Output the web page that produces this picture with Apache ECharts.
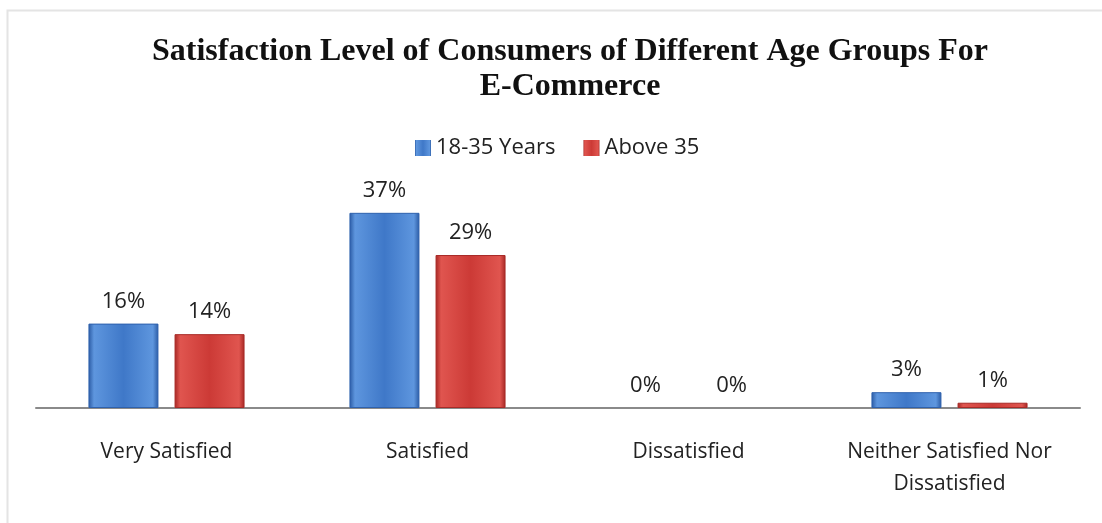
<!DOCTYPE html>
<html>
<head>
<meta charset="utf-8">
<script src="https://cdn.jsdelivr.net/npm/echarts@6/dist/echarts.min.js"></script>
<style>
  html, body { margin: 0; padding: 0; background: #fff; }
  #chart { width: 1102px; height: 523px; }
</style>
</head>
<body>
<div id="chart"></div>
<script>
const categories = ['Very Satisfied', 'Satisfied', 'Dissatisfied', 'Neither Satisfied Nor\nDissatisfied'];
const young = [16, 37, 0, 3];
const older = [14, 29, 0, 1];
const seriesNames = ['18-35 Years', 'Above 35'];

const labelFont = '"Open Sans", Lato, sans-serif';

const barFill = (light, mid, dark) => ({
  type: 'linear', x: 0, y: 0, x2: 1, y2: 0,
  colorStops: [
    { offset: 0, color: dark },
    { offset: 0.08, color: light },
    { offset: 0.5, color: mid },
    { offset: 0.92, color: light },
    { offset: 1, color: dark }
  ]
});

// zero-height bars get no border, so nothing shows on the axis
const toItems = (vals, border) => vals.map(v => ({
  value: v,
  itemStyle: { borderColor: border, borderWidth: v === 0 ? 0 : 1 }
}));

const chartNode = document.getElementById('chart');
const myChart = echarts.init(chartNode, null, { renderer: 'canvas' });

const dataLabel = {
  show: true,
  position: 'top',
  distance: 11,
  formatter: '{c}%',
  fontFamily: labelFont,
  fontSize: 22,
  color: '#222'
};

const option = {
  backgroundColor: '#fff',
  animation: false,
  graphic: [{
    type: 'rect',
    shape: { x: 7.5, y: 10.5, width: 1200, height: 600 },
    style: { fill: 'none', stroke: '#e4e4e4', lineWidth: 2 },
    silent: true
  }],
  title: {
    text: 'Satisfaction Level of Consumers of Different Age Groups For\nE-Commerce',
    left: 565,
    textAlign: 'center',
    top: 29,
    textStyle: {
      fontFamily: '"Liberation Serif", serif',
      fontWeight: 'bold',
      fontSize: 32,
      lineHeight: 35,
      color: '#111'
    }
  },
  legend: {
    data: seriesNames,
    top: 132,
    left: 410,
    icon: 'rect',
    itemWidth: 16,
    itemHeight: 16,
    itemGap: 28,
    textStyle: { fontFamily: labelFont, fontSize: 22, color: '#222' }
  },
  grid: { left: 36, right: 22, top: 197, bottom: 115 },
  xAxis: {
    type: 'category',
    data: categories,
    axisLine: { lineStyle: { color: '#8a8a8a', width: 2 } },
    axisTick: { show: false },
    axisLabel: {
      fontFamily: labelFont,
      fontSize: 21,
      color: '#222',
      margin: 28,
      lineHeight: 32,
      interval: 0
    }
  },
  yAxis: {
    type: 'value',
    min: 0,
    max: 40,
    show: false
  },
  series: [
    {
      name: seriesNames[0],
      type: 'bar',
      data: toItems(young, '#2e61ad'),
      barWidth: 70,
      barGap: '23%',
      itemStyle: { color: barFill('#5e96de', '#3f78c8', '#2a5aa3') },
      label: dataLabel
    },
    {
      name: seriesNames[1],
      type: 'bar',
      data: toItems(older, '#a82a27'),
      barWidth: 70,
      itemStyle: { color: barFill('#e0554f', '#cc3a36', '#a52623') },
      label: dataLabel
    }
  ]
};

myChart.setOption(option);
</script>
</body>
</html>
